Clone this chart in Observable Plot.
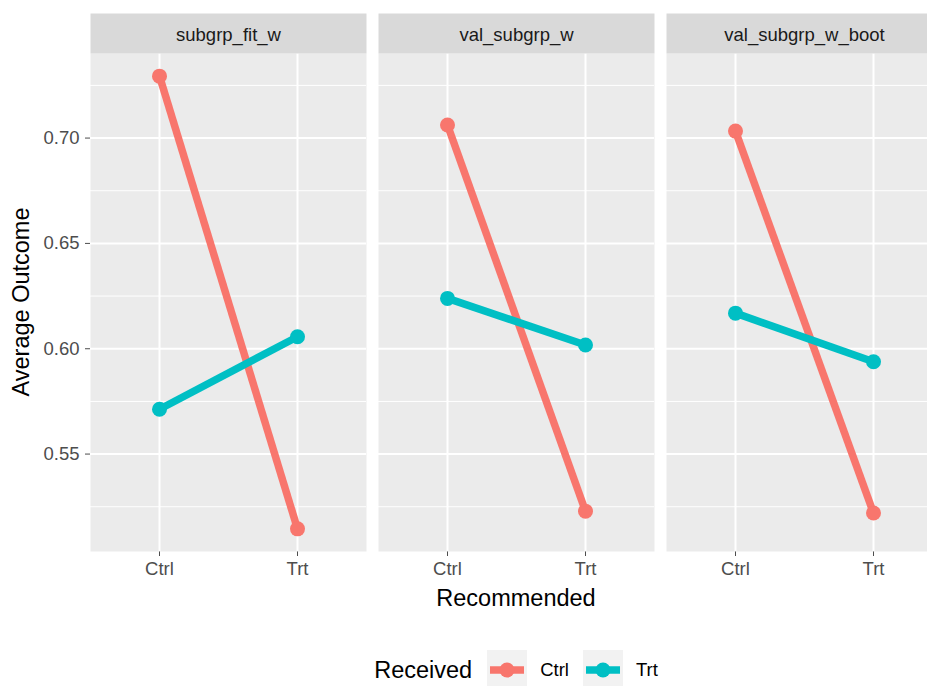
<!DOCTYPE html>
<html>
<head>
<meta charset="utf-8">
<script src="https://cdn.jsdelivr.net/npm/d3@7"></script>
<script src="https://cdn.jsdelivr.net/npm/@observablehq/plot@0.6"></script>
<style>
html, body { margin: 0; padding: 0; background: #fff; overflow: hidden; width: 927px; height: 686px; }
#wrap { position: relative; width: 949px; height: 686px; font-family: "Liberation Sans", Arial, Helvetica, sans-serif; }
#wrap svg { display: block; }
#legend { position: absolute; left: 0; top: 650px; width: 949px; height: 40px; box-sizing: border-box; padding-left: 90px; padding-right: 7px; display: flex; justify-content: center; align-items: center; }
#legend .title { font-size: 23.5px; color: #000; margin-right: 15px; }
#legend .lab { font-size: 18.5px; color: #000; margin-left: 13px; margin-right: 14px; }
#legend svg { display: block; }
</style>
</head>
<body>
<div id="wrap"></div>
<script>
// ---- data ----
const panels = ["subgrp_fit_w", "val_subgrp_w", "val_subgrp_w_boot"];
const recommended = ["Ctrl", "Trt"];
const received = ["Ctrl", "Trt"];
// values per panel: [Recommended Ctrl, Recommended Trt]
const receivedCtrlValues = [[0.7294, 0.5145], [0.7062, 0.5229], [0.7033, 0.5220]];
const receivedTrtValues  = [[0.5713, 0.6057], [0.6239, 0.6018], [0.6169, 0.5938]];
const yMajorTicks = [0.55, 0.60, 0.65, 0.70];
const yMinorTicks = [0.525, 0.575, 0.625, 0.675, 0.725];
const seriesColors = ["#F8766D", "#00BFC4"];
const xTitle = "Recommended";
const yTitle = "Average Outcome";
const legendTitle = "Received";

// ---- table ----
const seriesValues = [receivedCtrlValues, receivedTrtValues];
const rows = panels.flatMap((p, i) =>
  received.flatMap((r, j) =>
    recommended.map((rec, k) => ({panel: p, received: r, recommended: rec, value: seriesValues[j][i][k]}))
  )
);

// ggplot-like 5% expansion of y
const [ymin, ymax] = d3.extent(rows, d => d.value);
const pad = (ymax - ymin) * 0.05;
const yDomain = [ymin - pad, ymax + pad];

const W = 949, H = 640, mT = 53, mL = 90, mR = 7, mB = 89;
const panelH = H - mT - mB;
const stripH = 40;
const fontFamily = '"Liberation Sans", Arial, Helvetica, sans-serif';

const chart = Plot.plot({
  width: W,
  height: H,
  marginTop: mT,
  marginLeft: mL,
  marginRight: mR,
  marginBottom: mB,
  style: {fontFamily, fontSize: "18.5px", color: "#4D4D4D", background: "transparent", overflow: "visible"},
  facet: {data: rows, x: "panel"},
  fx: {domain: panels, paddingInner: 12 / 288, paddingOuter: 0, label: null, axis: null},
  x: {domain: recommended, type: "point", padding: 0.5, label: null, tickSize: 5, tickPadding: 5},
  y: {domain: yDomain, ticks: yMajorTicks, tickFormat: ".2f", label: null, tickSize: 5, tickPadding: 6},
  color: {domain: received, range: seriesColors},
  marks: [
    Plot.frame({fill: "#EBEBEB", stroke: null}),
    Plot.ruleY(yMinorTicks, {stroke: "#FFFFFF", strokeWidth: 1}),
    Plot.ruleY(yMajorTicks, {stroke: "#FFFFFF", strokeWidth: 2}),
    Plot.ruleX(recommended, {stroke: "#FFFFFF", strokeWidth: 2}),
    Plot.frame({fill: "#D9D9D9", stroke: null, insetTop: -stripH, insetBottom: panelH}),
    Plot.text(rows, Plot.selectFirst({text: "panel", frameAnchor: "top", lineAnchor: "bottom", dy: -13, fill: "#1A1A1A", fontSize: 18.5})),
    Plot.line(rows, {x: "recommended", y: "value", z: "received", stroke: "received", strokeWidth: 7.5, strokeLinecap: "butt"}),
    Plot.dot(rows, {x: "recommended", y: "value", fill: "received", r: 7.5, stroke: null})
  ]
});

const wrap = document.getElementById("wrap");
wrap.appendChild(chart);

const svg = d3.select(chart);
svg.append("text")
  .attr("x", mL + (W - mL - mR) / 2)
  .attr("y", 606)
  .attr("text-anchor", "middle")
  .attr("font-size", 23.5)
  .attr("font-family", fontFamily)
  .attr("fill", "#000")
  .text(xTitle);
svg.append("text")
  .attr("transform", `translate(29,${mT + panelH / 2}) rotate(-90)`)
  .attr("text-anchor", "middle")
  .attr("font-size", 23.5)
  .attr("font-family", fontFamily)
  .attr("fill", "#000")
  .text(yTitle);

// ---- legend ----
const legend = document.createElement("div");
legend.id = "legend";
const t = document.createElement("span");
t.className = "title";
t.textContent = legendTitle;
legend.appendChild(t);
received.forEach((r, i) => {
  const key = d3.create("svg").attr("width", 40).attr("height", 40);
  key.append("rect").attr("width", 40).attr("height", 40).attr("fill", "#F2F2F2");
  key.append("line").attr("x1", 3).attr("x2", 37).attr("y1", 20).attr("y2", 20)
    .attr("stroke", seriesColors[i]).attr("stroke-width", 7.5);
  key.append("circle").attr("cx", 20).attr("cy", 20).attr("r", 7.5).attr("fill", seriesColors[i]);
  legend.appendChild(key.node());
  const lab = document.createElement("span");
  lab.className = "lab";
  if (i === received.length - 1) lab.style.marginRight = "0px";
  lab.textContent = r;
  legend.appendChild(lab);
});
wrap.appendChild(legend);
</script>
</body>
</html>
